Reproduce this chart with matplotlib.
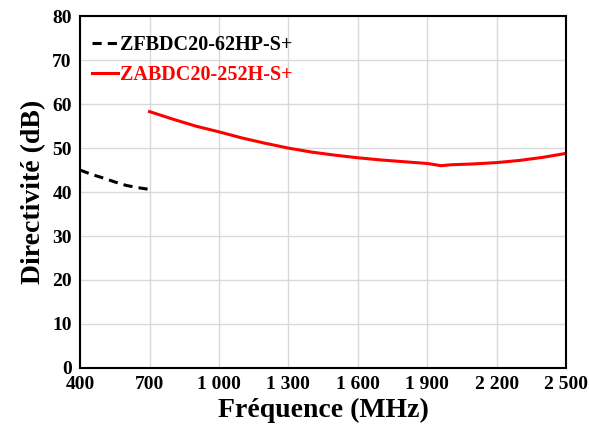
import numpy as np
import matplotlib.pyplot as plt
from matplotlib.ticker import FuncFormatter, MultipleLocator

plt.rcParams['font.family'] = ['Liberation Serif', 'DejaVu Serif']
plt.rcParams['font.weight'] = 'bold'

# ZFBDC20-62HP-S+ (dashed black)
freq_zf = [400, 450, 500, 550, 600, 650, 700]
dir_zf = [45.0, 44.0, 43.2, 42.3, 41.5, 41.0, 40.6]

# ZABDC20-252H-S+ (solid red)
freq_za = [700, 800, 900, 1000, 1100, 1200, 1300, 1400, 1500, 1600,
           1700, 1800, 1900, 1960, 2000, 2100, 2200, 2300, 2400, 2500]
dir_za = [58.3, 56.6, 55.0, 53.7, 52.3, 51.1, 50.0, 49.1, 48.4, 47.8,
          47.3, 46.9, 46.5, 46.0, 46.2, 46.4, 46.7, 47.2, 47.9, 48.8]

x_ticks = [400, 700, 1000, 1300, 1600, 1900, 2200, 2500]


def thousands(v, pos):
    return f"{int(v):,}".replace(",", " ")


fig = plt.figure(figsize=(5.89, 4.38), dpi=100)
ax = fig.add_axes([0.136, 0.160, 0.825, 0.803])

ax.plot(freq_zf, dir_zf, color='black', linestyle=(0, (3, 2)), linewidth=2.2,
        label='ZFBDC20-62HP-S+')
ax.plot(freq_za, dir_za, color='red', linewidth=2.2, label='ZABDC20-252H-S+')

ax.set_xlim(400, 2500)
ax.set_ylim(0, 80)
ax.set_xticks(x_ticks)
ax.xaxis.set_major_formatter(FuncFormatter(thousands))
ax.yaxis.set_major_locator(MultipleLocator(10))
ax.grid(True, color='#d9d9d9', linewidth=1)
ax.set_axisbelow(True)
for sp in ax.spines.values():
    sp.set_color('black')
    sp.set_linewidth(1.5)
ax.tick_params(labelsize=14, length=0, pad=6)

ax.set_xlabel('Fréquence (MHz)', fontsize=20, fontweight='bold', labelpad=3)
ax.set_ylabel('Directivité (dB)', fontsize=20, fontweight='bold', labelpad=4)

leg = ax.legend(loc='upper left', bbox_to_anchor=(0.0, 0.982), frameon=False,
                fontsize=14.5, handlelength=1.3, handletextpad=0.1,
                borderaxespad=0.2, labelspacing=0.5)
for txt, col in zip(leg.get_texts(), ['black', 'red']):
    txt.set_color(col)

fig.savefig('out.png', dpi=100)
